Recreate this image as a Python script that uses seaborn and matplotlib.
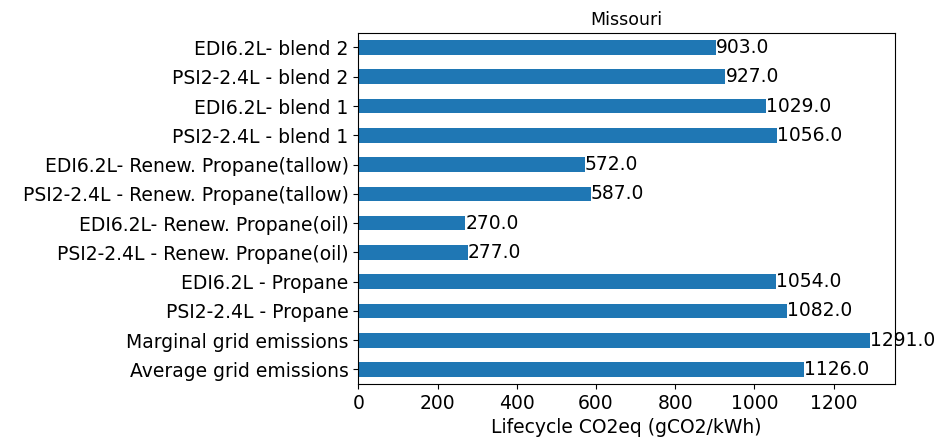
import matplotlib
matplotlib.use("Agg")
import matplotlib.pyplot as plt
import seaborn as sns
import pandas as pd

# top to bottom as drawn
scenarios = [
    "EDI6.2L- blend 2",
    "PSI2-2.4L - blend 2",
    "EDI6.2L- blend 1",
    "PSI2-2.4L - blend 1",
    "EDI6.2L- Renew. Propane(tallow)",
    "PSI2-2.4L - Renew. Propane(tallow)",
    "EDI6.2L- Renew. Propane(oil)",
    "PSI2-2.4L - Renew. Propane(oil)",
    "EDI6.2L - Propane",
    "PSI2-2.4L - Propane",
    "Marginal grid emissions",
    "Average grid emissions",
]
co2 = [903.0, 927.0, 1029.0, 1056.0, 572.0, 587.0, 270.0, 277.0,
       1054.0, 1082.0, 1291.0, 1126.0]

df = pd.DataFrame({"scenario": scenarios, "co2": co2})

fs = 13.5
fig, ax = plt.subplots(figsize=(9.48, 4.38), dpi=100)
sns.barplot(data=df, x="co2", y="scenario", orient="h", color="#1f77b4",
            saturation=1, width=0.5, ax=ax)
for c in ax.containers:
    ax.bar_label(c, fmt="%.1f", fontsize=fs)

ax.set_xlim(0, 1355)
ax.set_ylabel("")
ax.set_xlabel("Lifecycle CO2eq (gCO2/kWh)", fontsize=fs)
ax.set_title("Missouri", fontsize=12.5)
ax.tick_params(labelsize=fs)

fig.subplots_adjust(left=0.378, right=0.944, top=0.925, bottom=0.123)
fig.savefig("out.png")
